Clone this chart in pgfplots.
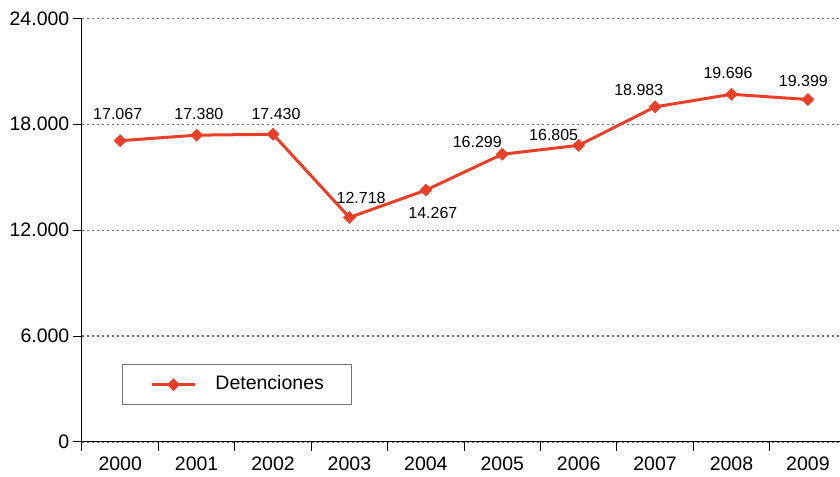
\documentclass[border=0pt]{standalone}
\usepackage{fontspec}
\setmainfont{Liberation Sans}
\usepackage{pgfplots}
\pgfplotsset{compat=1.18}
\definecolor{linered}{RGB}{232,64,40}
\definecolor{gridgray}{RGB}{105,105,105}
\begin{document}
\begin{tikzpicture}
\begin{axis}[
  at={(0,0)}, anchor=south west,
  scale only axis,
  width=758bp, height=423.7bp,
  xmin=-0.5, xmax=9.42,
  ymin=0, ymax=24000,
  axis lines=left,
  axis line style={-, black, line width=1bp},
  clip=false,
  tick align=outside,
  major tick length=8.5bp,
  tick style={black, line width=1bp},
  xtick={-0.5,0.5,1.5,2.5,3.5,4.5,5.5,6.5,7.5,8.5},
  xticklabels={2000,2001,2002,2003,2004,2005,2006,2007,2008,2009},
  xticklabel style={xshift=38.2bp, font=\fontsize{19.5bp}{22bp}\selectfont, inner sep=0pt, yshift=-6bp},
  ytick={0,6000,12000,18000,24000},
  scaled y ticks=false,
  yticklabel style={font=\fontsize{19.5bp}{22bp}\selectfont, inner sep=0pt, xshift=-4bp},
  /pgf/number format/.cd, 1000 sep={.}, assume math mode=true, /pgfplots/.cd,
  ymajorgrids,
  major grid style={gridgray, line width=1.2bp, dash pattern=on 1.6bp off 3.4bp},
  legend style={at={(0.0528,0.1834)}, anchor=north west, draw=gray!90!black, line width=0.9bp,
    font=\fontsize{19.5bp}{22bp}\selectfont, inner xsep=28bp, inner ysep=11bp,
    nodes={inner sep=0pt, text height=14bp, text depth=4bp},
    /tikz/every odd column/.append style={column sep=19bp}},
  legend image code/.code={\draw[mark repeat=2, mark phase=2, #1] plot coordinates {(0bp,0bp) (21.5bp,0bp) (43bp,0bp)};},
]
\addplot[linered, line width=3bp, mark=square*, mark size=4.3bp,
  mark options={rotate=45, solid, fill=linered, draw=linered, line width=0.5bp},
  nodes near coords={\pgfmathprintnumber[1000 sep={.}, assume math mode=true, fixed, precision=0]{\pgfplotspointmeta}},
  nodes near coords align=center,
  every node near coord/.append style={anchor=center, text=black, inner sep=0pt, font=\fontsize{16bp}{19bp}\selectfont},
  coordinate style/.condition={\coordindex==0}{xshift=-2.5bp, yshift=26.7bp},
  coordinate style/.condition={\coordindex==1}{xshift=2.3bp, yshift=20.7bp},
  coordinate style/.condition={\coordindex==2}{xshift=3bp, yshift=20bp},
  coordinate style/.condition={\coordindex==3}{xshift=11.7bp, yshift=19.3bp},
  coordinate style/.condition={\coordindex==4}{xshift=7bp, yshift=-22.5bp},
  coordinate style/.condition={\coordindex==5}{xshift=-25bp, yshift=12.6bp},
  coordinate style/.condition={\coordindex==6}{xshift=-25bp, yshift=10.4bp},
  coordinate style/.condition={\coordindex==7}{xshift=-16.3bp, yshift=16.7bp},
  coordinate style/.condition={\coordindex==8}{xshift=-3.5bp, yshift=21.3bp},
  coordinate style/.condition={\coordindex==9}{xshift=-4.5bp, yshift=19bp},
] coordinates {
  (0,17067) (1,17380) (2,17430) (3,12718) (4,14267)
  (5,16299) (6,16805) (7,18983) (8,19696) (9,19399)
};
\addlegendentry{Detenciones}
\end{axis}
\pgfresetboundingbox
\path (-82bp,-35bp) rectangle (758bp,442bp);
\end{tikzpicture}
\end{document}
